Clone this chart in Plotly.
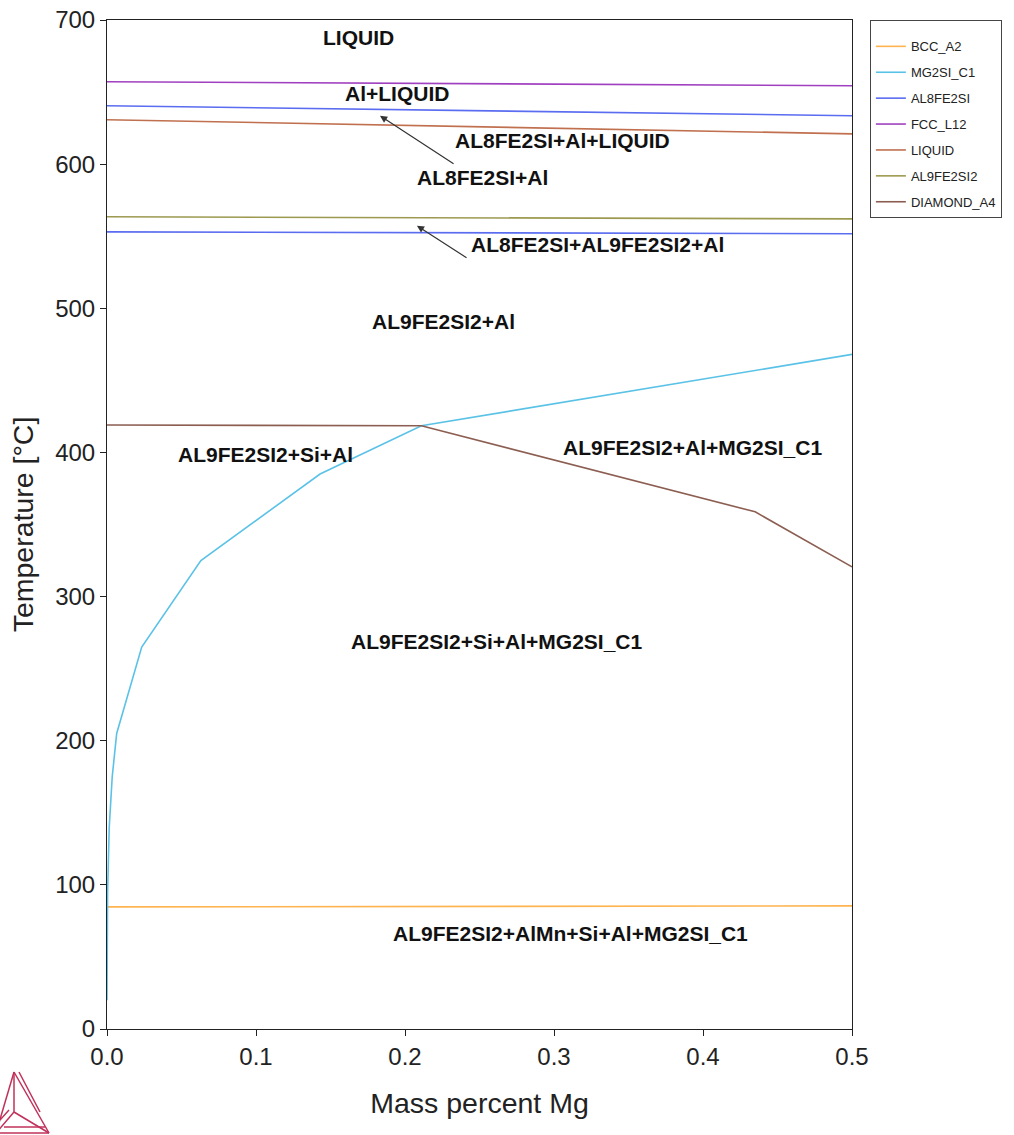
import plotly.graph_objects as go

# ---------------- data ----------------
bcc_x = [0.0, 0.5]
bcc_t = [84.7, 85.4]

mg2si_x = [0.0, 0.0004, 0.0015, 0.0035, 0.0065, 0.0233, 0.063, 0.143, 0.211, 0.5]
mg2si_t = [20, 95, 140, 175, 205, 265, 325, 385, 418.5, 468]

al8_upper_x = [0.0, 0.5]
al8_upper_t = [640.5, 633.6]
al8_lower_x = [0.0, 0.5]
al8_lower_t = [553.0, 551.7]

fcc_x = [0.0, 0.5]
fcc_t = [657.2, 654.4]

liquid_x = [0.0, 0.5]
liquid_t = [630.8, 621.0]

al9_x = [0.0, 0.5]
al9_t = [563.5, 562.0]

diamond_x = [0.0, 0.211, 0.435, 0.5]
diamond_t = [419.0, 418.5, 358.8, 320.6]

label_text = ["LIQUID", "Al+LIQUID", "AL8FE2SI+Al+LIQUID", "AL8FE2SI+Al",
              "AL8FE2SI+AL9FE2SI2+Al", "AL9FE2SI2+Al", "AL9FE2SI2+Si+Al",
              "AL9FE2SI2+Al+MG2SI_C1", "AL9FE2SI2+Si+Al+MG2SI_C1",
              "AL9FE2SI2+AlMn+Si+Al+MG2SI_C1"]
label_x = [0.1685, 0.1946, 0.306, 0.2517, 0.3289, 0.226, 0.1067, 0.393, 0.2617, 0.311]
label_t = [687.7, 648.8, 616.2, 590.6, 544.1, 490.6, 398.3, 403.2, 268.6, 66.6]

arrow_head_x = [0.1832, 0.208]
arrow_head_t = [633.6, 557.3]
arrow_tail_x = [0.2336, 0.2423]
arrow_tail_t = [599.6, 534.4]

x_ticks = [0.0, 0.1, 0.2, 0.3, 0.4, 0.5]
y_ticks = [0, 100, 200, 300, 400, 500, 600, 700]

# ---------------- figure ----------------
fig = go.Figure()
W = 1.6

def add(name, x, y, color, group, show=True):
    fig.add_trace(go.Scatter(x=x, y=y, mode="lines", name=name,
                             line=dict(color=color, width=W),
                             legendgroup=group, showlegend=show))

add("BCC_A2", bcc_x, bcc_t, "#FFB450", "g1")
add("MG2SI_C1", mg2si_x, mg2si_t, "#5BC2E7", "g2")
add("AL8FE2SI", al8_upper_x, al8_upper_t, "#5A6CF0", "g3")
add("AL8FE2SI", al8_lower_x, al8_lower_t, "#5A6CF0", "g3", show=False)
add("FCC_L12", fcc_x, fcc_t, "#A040C0", "g4")
add("LIQUID", liquid_x, liquid_t, "#C0704F", "g5")
add("AL9FE2SI2", al9_x, al9_t, "#9C9A50", "g6")
add("DIAMOND_A4", diamond_x, diamond_t, "#8C5E52", "g7")

FONT = "Arial, Liberation Sans"
annos = []
for t, x, y in zip(label_text, label_x, label_t):
    annos.append(dict(x=x, y=y, xref="x", yref="y", text="<b>" + t + "</b>", showarrow=False,
                      font=dict(family=FONT, size=21, color="#111")))
for hx, ht, tx, tt in zip(arrow_head_x, arrow_head_t, arrow_tail_x, arrow_tail_t):
    annos.append(dict(x=hx, y=ht, xref="x", yref="y", ax=tx, ay=tt, axref="x", ayref="y",
                      text="", showarrow=True, arrowhead=2, arrowsize=1.2, arrowwidth=1.2,
                      arrowcolor="#333"))

# Thermo-Calc style logo (decoration, pixel positions converted to paper coords)
L, R, T, B = 107, 852, 20, 1029
def P(px, py):
    return ((px - L) / (R - L), (B - py) / (B - T))
logo_segments = [((14, 1072), (-4, 1133)), ((14, 1072), (49, 1133)), ((14, 1072), (14, 1112)),
                 ((14, 1112), (-4, 1133)), ((14, 1112), (49, 1133)), ((-4, 1133), (49, 1133)),
                 ((4, 1127), (45, 1127)), ((19, 1072), (40, 1112)), ((9, 1110), (0, 1120))]
shapes = []
for (a, b) in logo_segments:
    x0, y0 = P(*a)
    x1, y1 = P(*b)
    shapes.append(dict(type="line", xref="paper", yref="paper", x0=x0, y0=y0, x1=x1, y1=y1,
                       line=dict(color="#C0305A", width=1.5)))

axis_common = dict(showgrid=False, zeroline=False, showline=True, linecolor="#222",
                   linewidth=1, mirror=True, ticks="outside", ticklen=6, tickcolor="#222",
                   tickfont=dict(family=FONT, size=24, color="#222"))

fig.update_layout(
    width=1014, height=1135,
    margin=dict(l=L, r=1014 - R, t=T, b=1135 - B, autoexpand=False),
    paper_bgcolor="white", plot_bgcolor="white",
    xaxis=dict(range=[0, 0.5], tickvals=x_ticks, ticktext=[f"{v:.1f}" for v in x_ticks],
               title=dict(text="Mass percent Mg", standoff=24,
                          font=dict(family=FONT, size=28.5, color="#222")),
               **axis_common),
    yaxis=dict(range=[0, 700], tickvals=y_ticks,
               title=dict(text="Temperature [°C]", standoff=13,
                          font=dict(family=FONT, size=28.5, color="#222")),
               **axis_common),
    legend=dict(x=1.024, y=1.0, xanchor="left", yanchor="top",
                bordercolor="#444", borderwidth=1, bgcolor="white",
                font=dict(family=FONT, size=13, color="#222"),
                title=dict(text=" ", font=dict(size=8)),
                tracegroupgap=6),
    annotations=annos,
    shapes=shapes,
)

fig.write_html("out.html")
